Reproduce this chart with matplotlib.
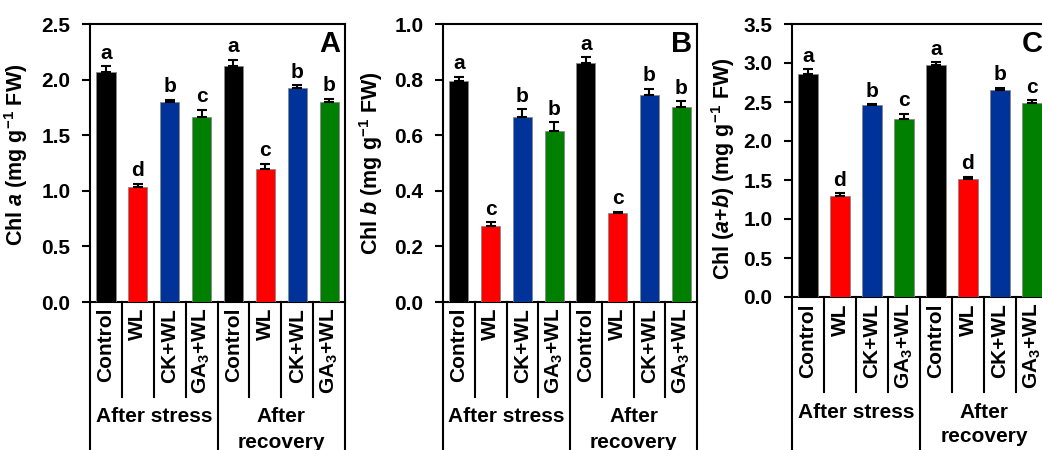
import matplotlib
matplotlib.use("Agg")
import matplotlib.pyplot as plt
import matplotlib.transforms as mtransforms

plt.rcParams['font.family'] = ['Liberation Sans', 'DejaVu Sans']
plt.rcParams['mathtext.fontset'] = 'custom'
plt.rcParams['mathtext.rm'] = 'Liberation Sans:bold'
plt.rcParams['mathtext.it'] = 'Liberation Sans:bold:italic'
plt.rcParams['mathtext.bf'] = 'Liberation Sans:bold'

categories = ['Control', 'WL', 'CK+WL', 'GA$_{3}$+WL',
              'Control', 'WL', 'CK+WL', 'GA$_{3}$+WL']
groups = ['After stress', 'After\nrecovery']
colors = ['#000000', '#FF0000', '#003399', '#007F00'] * 2

chla = [2.07, 1.03, 1.80, 1.66, 2.12, 1.20, 1.92, 1.80]
chla_err = [0.05, 0.03, 0.02, 0.07, 0.06, 0.04, 0.03, 0.03]
chla_let = ['a', 'd', 'b', 'c', 'a', 'c', 'b', 'b']

chlb = [0.795, 0.274, 0.667, 0.616, 0.859, 0.319, 0.743, 0.701]
chlb_err = [0.015, 0.012, 0.026, 0.030, 0.021, 0.006, 0.023, 0.021]
chlb_let = ['a', 'c', 'b', 'b', 'a', 'c', 'b', 'b']

chlab = [2.86, 1.30, 2.46, 2.28, 2.97, 1.51, 2.66, 2.49]
chlab_err = [0.06, 0.03, 0.01, 0.07, 0.04, 0.03, 0.02, 0.03]
chlab_let = ['a', 'd', 'b', 'c', 'a', 'd', 'b', 'c']

W, H = 1042, 450
fig = plt.figure(figsize=(W / 100, H / 100), dpi=100)

panels = [
    dict(vals=chla, err=chla_err, let=chla_let, ymax=2.5, step=0.5, fmt='{:.1f}',
         label='Chl $\\mathit{a}$ (mg g$^{-1}$ FW)', tag='A',
         box=(90, 24, 255, 278), labx=-0.235, laby=0.53),
    dict(vals=chlb, err=chlb_err, let=chlb_let, ymax=1.0, step=0.2, fmt='{:.1f}',
         label='Chl $\\mathit{b}$ (mg g$^{-1}$ FW)', tag='B',
         box=(443, 24, 254, 278), labx=-0.228, laby=0.5),
    dict(vals=chlab, err=chlab_err, let=chlab_let, ymax=3.5, step=0.5, fmt='{:.1f}',
         label='Chl ($\\mathit{a}$+$\\mathit{b}$) (mg g$^{-1}$ FW)', tag='C',
         box=(792, 24, 256, 273), labx=-0.215, laby=0.47),
]

FS = 15
LW = 1.5
for p in panels:
    x0, y0, w, h = p['box']
    ax = fig.add_axes([x0 / W, 1 - (y0 + h) / H, w / W, h / H])
    xs = list(range(len(p['vals'])))
    ax.bar(xs, p['vals'], width=0.6, color=colors, edgecolor='#888888', linewidth=0.6,
           yerr=[[0] * len(xs), p['err']], capsize=3.8,
           error_kw=dict(ecolor='black', elinewidth=1.5, capthick=1.5), zorder=3)
    ax.set_xlim(-0.5, 7.5)
    ax.set_ylim(0, p['ymax'])
    n = int(round(p['ymax'] / p['step']))
    ticks = [i * p['step'] for i in range(n + 1)]
    ax.set_yticks(ticks)
    ax.set_yticklabels([p['fmt'].format(t) for t in ticks], fontsize=FS, fontweight='bold')
    ax.tick_params(axis='y', direction='out', length=6, width=LW, pad=8)
    ax.set_xticks([])
    for s in ax.spines.values():
        s.set_linewidth(LW)
    ax.set_ylabel(p['label'], fontsize=15.5, fontweight='bold')
    ax.yaxis.set_label_coords(p['labx'], p['laby'])

    # significance letters
    for x, v, e, l in zip(xs, p['vals'], p['err'], p['let']):
        ax.annotate(l, (x, v + e), xytext=(0, 5.5), textcoords='offset points',
                    ha='center', va='baseline', fontsize=FS, fontweight='bold')
    # panel tag
    ax.text(0.98, 0.978, p['tag'], transform=ax.transAxes, ha='right', va='top',
            fontsize=21, fontweight='bold')

    trans = mtransforms.blended_transform_factory(ax.transData, ax.transAxes)
    short = -95 / h
    longv = -(H - y0 - h + 5) / h
    for xb in [0.5, 1.5, 2.5, 4.5, 5.5, 6.5]:
        ax.plot([xb, xb], [0, short], transform=trans, color='black', lw=LW, clip_on=False)
    for xb in [-0.5, 3.5, 7.5]:
        ax.plot([xb, xb], [0, longv], transform=trans, color='black', lw=LW, clip_on=False)
    for x, c in zip(xs, categories):
        ax.text(x, -6 / h, c, transform=trans, rotation=90, ha='center', va='top',
                fontsize=FS, fontweight='bold')
    for gx, g in zip([1.5, 5.5], groups):
        for k, line in enumerate(g.split('\n')):
            ax.text(gx, -(115 + 25 * k) / h, line, transform=trans, ha='center',
                    va='center', fontsize=FS, fontweight='bold')

fig.savefig('out.png', dpi=100)
